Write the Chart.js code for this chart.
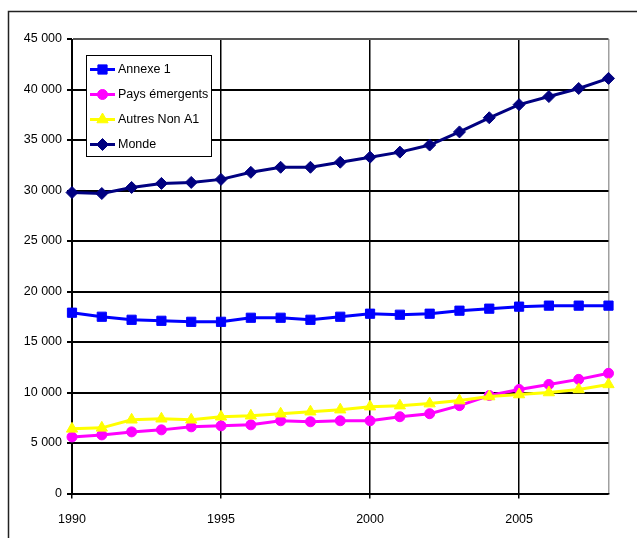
<!DOCTYPE html>
<html>
<head>
<meta charset="utf-8">
<script src="https://cdn.jsdelivr.net/npm/chart.js@4.4.1/dist/chart.umd.min.js"></script>
<style>
  html, body { margin: 0; padding: 0; background: #fff; }
  #wrap { width: 637px; height: 538px; }
</style>
</head>
<body>
<div id="wrap"><canvas id="chart" width="637" height="538"></canvas></div>
<script>
// ---- données ----
const years = [1990, 1991, 1992, 1993, 1994, 1995, 1996, 1997, 1998, 1999,
               2000, 2001, 2002, 2003, 2004, 2005, 2006, 2007, 2008];

const annexe1 = [17900, 17500, 17200, 17100, 17000, 17000, 17400, 17400, 17200, 17500,
                 17800, 17700, 17800, 18100, 18300, 18500, 18600, 18600, 18600];

const paysEmergents = [5600, 5800, 6100, 6300, 6600, 6700, 6800, 7200, 7100, 7200,
                       7200, 7600, 7900, 8700, 9700, 10300, 10800, 11300, 11900];

const autresNonA1 = [6400, 6500, 7300, 7400, 7300, 7600, 7700, 7900, 8100, 8300,
                     8600, 8700, 8900, 9200, 9600, 9800, 10000, 10300, 10800];

const monde = [29800, 29700, 30300, 30700, 30800, 31100, 31800, 32300, 32300, 32800,
               33300, 33800, 34500, 35800, 37200, 38500, 39300, 40100, 41100];

const yTicks = [0, 5000, 10000, 15000, 20000, 25000, 30000, 35000, 40000, 45000];

const FONT = "'Liberation Sans', Arial, sans-serif";

// ---- cadre extérieur + légende ----
const framePlugin = {
  id: "frame",
  beforeDraw(chart) {
    const ctx = chart.ctx;
    ctx.save();
    ctx.strokeStyle = "#222";
    ctx.lineWidth = 1.5;
    ctx.beginPath();
    ctx.moveTo(8.5, 540);
    ctx.lineTo(8.5, 11.5);
    ctx.lineTo(640, 11.5);
    ctx.stroke();
    ctx.restore();
  }
};

const legendBoxPlugin = {
  id: "legendBox",
  afterDatasetsDraw(chart) {
    const ctx = chart.ctx;
    const x0 = 86.5, y0 = 55.5, w = 125, h = 101;
    ctx.save();
    ctx.fillStyle = "#fff";
    ctx.fillRect(x0, y0, w, h);
    ctx.strokeStyle = "#000";
    ctx.lineWidth = 1;
    ctx.strokeRect(x0, y0, w, h);

    chart.data.datasets.forEach((ds, i) => {
      const y = 69.5 + i * 25;
      ctx.strokeStyle = ds.borderColor;
      ctx.lineWidth = 3;
      ctx.beginPath();
      ctx.moveTo(90, y);
      ctx.lineTo(115, y);
      ctx.stroke();

      ctx.fillStyle = ds.pointBackgroundColor;
      ctx.strokeStyle = ds.pointBorderColor;
      ctx.lineWidth = 1;
      Chart.helpers.drawPoint(ctx, {
        pointStyle: ds.pointStyle,
        radius: ds.pointRadius,
        borderWidth: 1,
        rotation: 0
      }, 102.5, y);

      ctx.fillStyle = "#000";
      ctx.font = "12.5px " + FONT;
      ctx.textAlign = "left";
      ctx.textBaseline = "middle";
      ctx.fillText(ds.label, 118, y + 0.5);
    });
    ctx.restore();
  }
};

function serie(label, data, color, style, radius, order) {
  return {
    label: label,
    data: data,
    borderColor: color,
    backgroundColor: color,
    pointBackgroundColor: color,
    pointBorderColor: color,
    pointStyle: style,
    pointRadius: radius,
    pointBorderWidth: 1,
    borderWidth: 3,
    tension: 0,
    order: order
  };
}

const chart = new Chart(document.getElementById("chart"), {
  type: "line",
  data: {
    labels: years,
    datasets: [
      serie("Annexe 1", annexe1, "#0000ff", "rect", 6.5, 4),
      serie("Pays émergents", paysEmergents, "#ff00ff", "circle", 5, 3),
      serie("Autres Non A1", autresNonA1, "#ffff00", "triangle", 6.5, 2),
      serie("Monde", monde, "#000080", "rectRot", 6, 1)
    ]
  },
  options: {
    responsive: false,
    animation: false,
    devicePixelRatio: 1,
    layout: { padding: { top: 39, right: 28.5, left: 0, bottom: 0 } },
    plugins: {
      legend: { display: false },
      tooltip: { enabled: false }
    },
    scales: {
      x: {
        type: "category",
        offset: false,
        afterFit: s => { s.height = 44.5; },
        border: { display: true, color: "#000", width: 1.5 },
        grid: {
          lineWidth: 1.5,
          tickLength: 5,
          color: c => {
            const yr = years[c.index];
            if (c.index === years.length - 1) return "#a0a0a0";
            return yr % 5 === 0 ? "#000" : "rgba(0,0,0,0)";
          },
          tickColor: c => {
            const yr = years[c.index];
            return yr % 5 === 0 && c.index !== years.length - 1 ? "#000" : "rgba(0,0,0,0)";
          }
        },
        ticks: {
          autoSkip: false,
          maxRotation: 0,
          padding: 14,
          color: "#000",
          font: { family: FONT, size: 12.5 },
          callback: function(v, i) {
            return years[i] % 5 === 0 ? String(years[i]) : "";
          }
        }
      },
      y: {
        min: 0,
        max: 45000,
        afterFit: s => { s.width = 72; },
        afterBuildTicks: s => { s.ticks = yTicks.map(v => ({ value: v })); },
        border: { display: true, color: "#000", width: 1 },
        grid: {
          color: c => (c.tick && c.tick.value === 45000 ? "#555" : "#000"),
          lineWidth: 2,
          tickLength: 5,
          tickColor: "#000"
        },
        ticks: {
          padding: 5,
          color: "#000",
          font: { family: FONT, size: 12.5 },
          callback: v => v === 0 ? "0" : String(v).replace(/\B(?=(\d{3})+(?!\d))/g, " ")
        }
      }
    }
  },
  plugins: [framePlugin, legendBoxPlugin]
});
</script>
</body>
</html>
